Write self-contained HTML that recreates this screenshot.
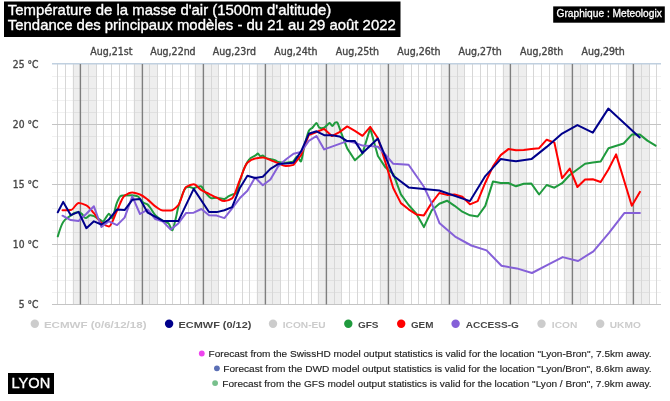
<!DOCTYPE html>
<html lang="fr"><head><meta charset="utf-8"><title>Température de la masse d'air - LYON</title>
<style>
html,body{margin:0;padding:0;background:#fff;}
body{width:670px;height:401px;overflow:hidden;position:relative;font-family:"Liberation Sans",sans-serif;}
svg{position:absolute;left:0;top:0;display:block;}
.ax{font-family:"DejaVu Sans Condensed","DejaVu Sans","Liberation Sans",sans-serif;font-size:10.5px;fill:#464646;stroke:#464646;stroke-width:0.35px;}
.ay{font-size:10.2px;}
.lg{font-family:"Liberation Sans",sans-serif;font-weight:bold;font-size:9.4px;fill:#454545;}
.lg.off{fill:#cccccc;}
.ft{font-family:"Liberation Sans",sans-serif;font-size:9.5px;fill:#1e1e1e;stroke:#1e1e1e;stroke-width:0.15px;}
.ttl{font-family:"Liberation Sans",sans-serif;font-size:15px;fill:#fff;stroke:#fff;stroke-width:0.35px;}
.cr{font-family:"Liberation Sans",sans-serif;font-size:10.2px;fill:#fff;stroke:#fff;stroke-width:0.3px;}
</style></head><body>
<svg width="670" height="401" viewBox="0 0 670 401">
<rect x="0" y="0" width="670" height="401" fill="#ffffff"/>
<g fill="#eeeeee">
<rect x="72.70" y="64.0" width="24.20" height="240.5"/>
<rect x="133.70" y="64.0" width="24.20" height="240.5"/>
<rect x="194.70" y="64.0" width="24.20" height="240.5"/>
<rect x="256.70" y="64.0" width="24.20" height="240.5"/>
<rect x="317.70" y="64.0" width="24.20" height="240.5"/>
<rect x="379.70" y="64.0" width="24.20" height="240.5"/>
<rect x="440.70" y="64.0" width="24.20" height="240.5"/>
<rect x="502.70" y="64.0" width="24.20" height="240.5"/>
<rect x="563.70" y="64.0" width="24.20" height="240.5"/>
<rect x="625.70" y="64.0" width="24.20" height="240.5"/>
</g>
<g stroke="#000000" stroke-opacity="0.055" stroke-width="1" fill="none">
<path d="M52.0 292.50H661.0"/>
<path d="M52.0 280.50H661.0"/>
<path d="M52.0 268.50H661.0"/>
<path d="M52.0 256.50H661.0"/>
<path d="M52.0 232.50H661.0"/>
<path d="M52.0 220.50H661.0"/>
<path d="M52.0 208.50H661.0"/>
<path d="M52.0 196.50H661.0"/>
<path d="M52.0 172.50H661.0"/>
<path d="M52.0 160.50H661.0"/>
<path d="M52.0 148.50H661.0"/>
<path d="M52.0 136.50H661.0"/>
<path d="M52.0 112.50H661.0"/>
<path d="M52.0 100.50H661.0"/>
<path d="M52.0 88.50H661.0"/>
<path d="M52.0 76.50H661.0"/>
</g>
<g stroke="#d7d7d7" stroke-width="1" fill="none">
<path d="M57.5 64.0V304.5"/>
<path d="M65.5 64.0V304.5"/>
<path d="M73.5 64.0V304.5"/>
<path d="M88.5 64.0V304.5"/>
<path d="M96.5 64.0V304.5"/>
<path d="M103.5 64.0V304.5"/>
<path d="M111.5 64.0V304.5"/>
<path d="M119.5 64.0V304.5"/>
<path d="M126.5 64.0V304.5"/>
<path d="M134.5 64.0V304.5"/>
<path d="M149.5 64.0V304.5"/>
<path d="M157.5 64.0V304.5"/>
<path d="M165.5 64.0V304.5"/>
<path d="M172.5 64.0V304.5"/>
<path d="M180.5 64.0V304.5"/>
<path d="M188.5 64.0V304.5"/>
<path d="M195.5 64.0V304.5"/>
<path d="M211.5 64.0V304.5"/>
<path d="M218.5 64.0V304.5"/>
<path d="M226.5 64.0V304.5"/>
<path d="M234.5 64.0V304.5"/>
<path d="M242.5 64.0V304.5"/>
<path d="M249.5 64.0V304.5"/>
<path d="M257.5 64.0V304.5"/>
<path d="M272.5 64.0V304.5"/>
<path d="M280.5 64.0V304.5"/>
<path d="M288.5 64.0V304.5"/>
<path d="M295.5 64.0V304.5"/>
<path d="M303.5 64.0V304.5"/>
<path d="M311.5 64.0V304.5"/>
<path d="M318.5 64.0V304.5"/>
<path d="M334.5 64.0V304.5"/>
<path d="M341.5 64.0V304.5"/>
<path d="M349.5 64.0V304.5"/>
<path d="M357.5 64.0V304.5"/>
<path d="M364.5 64.0V304.5"/>
<path d="M372.5 64.0V304.5"/>
<path d="M380.5 64.0V304.5"/>
<path d="M395.5 64.0V304.5"/>
<path d="M403.5 64.0V304.5"/>
<path d="M411.5 64.0V304.5"/>
<path d="M418.5 64.0V304.5"/>
<path d="M426.5 64.0V304.5"/>
<path d="M434.5 64.0V304.5"/>
<path d="M441.5 64.0V304.5"/>
<path d="M457.5 64.0V304.5"/>
<path d="M464.5 64.0V304.5"/>
<path d="M472.5 64.0V304.5"/>
<path d="M480.5 64.0V304.5"/>
<path d="M487.5 64.0V304.5"/>
<path d="M495.5 64.0V304.5"/>
<path d="M503.5 64.0V304.5"/>
<path d="M518.5 64.0V304.5"/>
<path d="M526.5 64.0V304.5"/>
<path d="M533.5 64.0V304.5"/>
<path d="M541.5 64.0V304.5"/>
<path d="M549.5 64.0V304.5"/>
<path d="M557.5 64.0V304.5"/>
<path d="M564.5 64.0V304.5"/>
<path d="M580.5 64.0V304.5"/>
<path d="M587.5 64.0V304.5"/>
<path d="M595.5 64.0V304.5"/>
<path d="M603.5 64.0V304.5"/>
<path d="M610.5 64.0V304.5"/>
<path d="M618.5 64.0V304.5"/>
<path d="M626.5 64.0V304.5"/>
<path d="M641.5 64.0V304.5"/>
<path d="M649.5 64.0V304.5"/>
<path d="M656.5 64.0V304.5"/>
</g>
<g stroke="#c4c4c4" stroke-width="1" fill="none">
<path d="M52.0 304.50H661.0"/>
<path d="M52.0 244.50H661.0"/>
<path d="M52.0 184.50H661.0"/>
<path d="M52.0 124.50H661.0"/>
</g>
<path d="M52.0 63.7H661.0" stroke="#c0d0e0" stroke-width="1.5" fill="none"/>
<g stroke="#7e7e7e" stroke-width="1.4" fill="none">
<path d="M80.40 64.0V304.5"/>
<path d="M142.40 64.0V304.5"/>
<path d="M203.40 64.0V304.5"/>
<path d="M265.40 64.0V304.5"/>
<path d="M326.40 64.0V304.5"/>
<path d="M388.40 64.0V304.5"/>
<path d="M449.40 64.0V304.5"/>
<path d="M510.40 64.0V304.5"/>
<path d="M572.40 64.0V304.5"/>
<path d="M633.40 64.0V304.5"/>
</g>
<g fill="none" stroke-width="2" stroke-linejoin="round" stroke-linecap="round">
<path stroke="#1f9a3d" d="M57.8 236.4 C58.1 235.4 59.9 229.7 60.5 228.0 C61.1 226.3 62.4 223.2 63.2 222.0 C64.0 220.8 66.1 218.7 67.0 218.0 C67.9 217.3 69.8 216.3 70.7 215.7 C71.6 215.1 73.6 213.4 74.5 213.0 C75.4 212.6 77.7 212.2 78.6 212.3 C79.5 212.4 81.3 213.4 82.0 214.0 C82.7 214.6 84.0 217.1 84.5 217.5 C85.0 217.9 85.8 218.1 86.4 217.8 C87.0 217.5 89.1 215.5 90.0 215.3 C90.9 215.1 93.0 215.8 93.9 216.1 C94.8 216.4 96.7 217.7 97.6 218.2 C98.5 218.7 100.7 220.3 101.4 220.7 C102.1 221.1 102.4 222.1 103.3 221.3 C104.2 220.5 107.8 214.2 108.9 213.8 C110.0 213.4 111.6 219.2 112.5 218.0 C113.4 216.8 115.6 206.3 116.5 203.8 C117.4 201.3 119.3 197.3 120.2 196.3 C121.1 195.3 123.2 195.7 124.6 195.6 C126.0 195.5 130.7 195.1 132.3 195.2 C133.9 195.3 137.0 196.0 137.9 196.4 C138.8 196.8 139.3 198.2 140.0 198.9 C140.7 199.6 142.7 202.0 143.6 202.7 C144.5 203.4 146.8 203.9 147.7 204.6 C148.6 205.3 150.2 207.8 151.1 209.0 C152.0 210.2 153.9 213.8 155.3 215.2 C156.7 216.6 161.4 219.9 163.0 220.9 C164.6 221.9 167.5 222.3 168.6 223.4 C169.7 224.5 171.6 230.7 172.4 230.3 C173.2 229.9 174.8 222.3 175.5 219.6 C176.2 216.9 177.5 210.0 178.3 207.1 C179.1 204.2 181.5 196.8 182.4 194.5 C183.3 192.2 185.1 188.5 186.0 187.6 C186.9 186.7 189.0 186.9 189.9 187.0 C190.8 187.1 192.8 188.3 193.7 188.3 C194.6 188.3 196.6 187.0 197.5 186.8 C198.4 186.6 200.5 185.8 201.4 186.4 C202.3 187.0 204.1 190.8 205.0 192.0 C205.9 193.2 208.2 195.9 209.0 196.6 C209.8 197.3 210.6 198.2 211.5 198.3 C212.4 198.4 215.2 197.6 216.7 197.7 C218.2 197.8 223.0 199.2 224.4 199.0 C225.8 198.8 227.5 196.9 228.4 196.4 C229.3 195.9 231.1 195.0 232.1 194.6 C233.1 194.2 235.7 194.2 236.6 192.7 C237.5 191.2 238.9 184.6 239.7 182.0 C240.5 179.4 242.6 172.3 243.5 170.0 C244.4 167.7 246.6 163.4 247.4 162.0 C248.2 160.6 249.5 158.9 250.4 158.2 C251.3 157.5 254.2 156.2 255.1 155.7 C256.0 155.2 257.3 153.5 257.9 153.6 C258.5 153.7 259.8 156.1 260.4 156.3 C261.0 156.5 262.1 155.3 262.8 155.5 C263.5 155.7 265.2 157.8 266.1 158.2 C267.0 158.6 269.4 158.9 270.4 159.1 C271.4 159.3 274.0 159.8 274.9 160.1 C275.8 160.4 276.8 161.7 278.1 162.0 C279.4 162.3 284.3 162.8 285.8 162.8 C287.3 162.8 290.3 162.2 291.2 162.0 C292.1 161.8 292.8 162.0 293.5 161.3 C294.2 160.6 296.5 156.3 297.4 156.3 C298.3 156.3 300.3 162.5 301.1 161.3 C301.9 160.1 303.5 149.5 304.4 146.0 C305.3 142.5 307.9 133.1 308.8 131.0 C309.7 128.9 311.6 128.6 312.5 127.7 C313.4 126.8 315.7 123.0 316.5 123.0 C317.3 123.0 318.5 127.2 319.4 127.7 C320.3 128.2 323.0 128.2 324.2 127.7 C325.4 127.2 328.6 123.2 329.5 123.0 C330.4 122.8 331.6 126.0 332.3 126.0 C333.0 126.0 334.5 123.0 335.1 122.7 C335.7 122.4 336.9 121.8 337.6 123.0 C338.3 124.2 340.3 130.3 341.4 133.3 L347.2 148.4 L354.9 160.3 L362.5 153.4 L370.2 128.3 L377.9 156.0 L385.6 167.6 L393.3 173.9 L400.9 194.3 L408.6 205.0 L416.3 213.7 L423.9 227.1 L431.6 210.6 L439.3 203.7 L447.0 200.7 L454.6 205.8 L462.3 211.7 L470.0 215.3 L477.7 216.5 L485.3 205.9 L493.0 181.4 L500.7 183.1 L508.4 183.0 L516.0 186.3 L523.7 183.7 L531.4 183.6 L539.1 194.5 L546.7 185.0 L554.4 187.7 L562.1 183.2 L569.8 175.0 L585.1 163.8 L592.8 162.6 L600.7 161.5 L608.5 148.3 L623.6 143.5 L631.8 134.6 L639.9 134.6 L647.4 140.6 L655.6 145.7"/>
<path stroke="#ff0000" d="M62.5 210.3 C65.2 210.2 68.0 210.2 70.7 210.1 C73.4 210.0 76.1 202.9 78.8 202.9 C81.3 202.9 83.9 204.1 86.4 205.3 C88.9 206.5 91.4 210.3 93.9 213.2 C96.4 216.1 98.9 221.1 101.4 222.8 C103.9 224.5 106.4 226.4 108.9 226.4 C111.4 226.4 114.0 216.9 116.5 211.9 C119.2 206.6 121.9 197.4 124.6 195.6 C127.2 193.8 129.7 192.4 132.3 192.4 C134.9 192.4 137.4 193.5 140.0 194.5 C142.6 195.5 145.1 197.6 147.7 199.6 C150.2 201.5 152.8 204.7 155.3 206.4 C157.9 208.1 160.4 210.6 163.0 210.6 C165.6 210.6 168.1 210.6 170.7 210.6 C173.2 210.6 175.8 208.0 178.3 205.2 C180.9 202.4 183.4 188.6 186.0 187.0 C188.6 185.4 191.1 184.3 193.7 184.3 C196.3 184.3 198.8 188.6 201.4 190.1 C203.9 191.6 206.5 192.6 209.0 193.9 C211.6 195.2 214.1 196.5 216.7 197.7 C219.3 198.9 221.8 201.1 224.4 201.1 C227.0 201.1 229.5 199.9 232.1 198.3 C234.6 196.7 237.2 186.3 239.7 180.4 C242.3 174.4 244.8 165.1 247.4 162.8 C250.0 160.5 252.5 159.1 255.1 158.6 C257.7 158.1 260.2 157.6 262.8 157.6 C265.3 157.6 267.9 159.2 270.4 160.1 C273.0 161.0 275.5 162.2 278.1 163.2 C280.7 164.2 283.2 166.1 285.8 166.1 C288.4 166.1 290.9 165.6 293.5 164.9 L301.1 155.1 L308.8 135.0 L316.5 132.0 L324.2 128.9 L331.8 136.1 L339.5 132.1 L347.2 126.4 L354.9 130.8 L362.5 135.8 L370.2 126.8 L377.9 138.3 L385.6 163.0 L393.2 188.0 L400.9 203.1 L408.6 209.3 L416.3 214.4 L423.9 215.4 L431.6 203.1 L439.3 193.0 L447.0 194.9 L454.6 194.4 L462.3 196.8 L470.0 204.3 L477.7 201.1 L485.3 182.7 L493.0 166.4 L500.7 155.1 L508.4 149.1 L516.0 150.3 L523.7 150.1 L531.4 149.1 L539.1 148.2 L546.7 139.7 L554.4 142.6 L562.1 178.2 L569.8 168.6 L577.4 187.0 L585.1 179.5 L592.8 179.3 L600.7 182.0 L608.4 169.5 L616.1 154.4 L631.8 205.7 L639.9 191.9"/>
<path stroke="#8560d8" d="M62.5 215.7 L70.7 220.1 L78.6 221.1 L86.4 213.8 L93.9 206.3 L101.4 227.0 L108.9 221.3 L117.1 225.1 L124.6 217.6 L132.3 196.4 L140.0 214.0 L147.7 209.6 L155.3 219.0 L163.0 221.5 L170.7 229.6 L178.3 223.4 L186.0 213.1 L193.7 212.7 L201.4 209.0 L209.0 215.2 L216.7 215.6 L224.4 218.1 L232.1 208.4 L239.7 198.3 L247.4 190.8 L255.1 177.5 L262.8 185.2 L270.4 179.5 L278.1 166.4 L285.8 159.5 L293.5 153.8 L301.1 152.0 L308.8 140.9 L316.5 136.0 L324.2 149.4 L347.2 141.1 L354.9 142.7 L362.5 145.6 L370.2 145.9 L377.9 146.7 L385.6 155.0 L393.3 163.8 L408.6 164.8 L423.9 186.8 L431.6 203.1 L439.6 223.3 L455.1 236.6 L471.3 245.5 L486.6 250.4 L501.5 265.8 L516.8 268.4 L532.0 273.0 L547.1 265.2 L562.7 257.1 L578.1 261.0 L593.4 251.3 L609.0 232.8 L624.3 213.1 L639.9 212.9"/>
<path stroke="#00008b" d="M57.8 212.3 L63.2 201.9 L70.7 215.1 L78.6 211.9 L86.4 228.2 L93.9 221.3 L101.4 224.5 L108.9 219.5 L117.1 209.4 L124.6 210.1 L132.3 199.8 L140.0 198.9 L147.7 212.7 L163.0 220.9 L178.3 221.1 L193.7 188.9 L209.0 212.0 L216.7 212.1 L224.4 210.2 L232.1 207.1 L239.7 188.3 L247.4 175.8 L255.1 178.0 L262.8 176.7 L270.4 168.9 L278.1 164.1 L285.8 163.6 L293.5 162.8 L301.1 151.3 L308.8 133.8 L316.5 131.3 L324.2 135.2 L331.8 135.2 L339.5 136.4 L347.2 141.1 L354.9 141.1 L362.5 153.1 L377.9 138.6 L393.3 175.7 L408.6 187.4 L439.3 190.5 L470.0 201.1 L485.3 176.1 L500.7 159.1 L516.0 161.3 L531.4 159.1 L546.7 146.9 L562.1 133.6 L577.4 125.1 L592.8 132.6 L608.3 108.6 L639.7 137.5"/>
</g>
<text class="ax ay" x="38.4" y="308.3" text-anchor="end">5 °C</text>
<text class="ax ay" x="38.4" y="248.3" text-anchor="end">10 °C</text>
<text class="ax ay" x="38.4" y="188.3" text-anchor="end">15 °C</text>
<text class="ax ay" x="38.4" y="128.3" text-anchor="end">20 °C</text>
<text class="ax ay" x="38.4" y="68.3" text-anchor="end">25 °C</text>
<text class="ax" x="111.4" y="55.2" text-anchor="middle">Aug,21st</text>
<text class="ax" x="172.9" y="55.2" text-anchor="middle">Aug,22nd</text>
<text class="ax" x="234.4" y="55.2" text-anchor="middle">Aug,23rd</text>
<text class="ax" x="295.8" y="55.2" text-anchor="middle">Aug,24th</text>
<text class="ax" x="357.3" y="55.2" text-anchor="middle">Aug,25th</text>
<text class="ax" x="418.8" y="55.2" text-anchor="middle">Aug,26th</text>
<text class="ax" x="480.2" y="55.2" text-anchor="middle">Aug,27th</text>
<text class="ax" x="541.7" y="55.2" text-anchor="middle">Aug,28th</text>
<text class="ax" x="603.1" y="55.2" text-anchor="middle">Aug,29th</text>
<rect x="4" y="1.5" width="396.5" height="35.5" fill="#000"/>
<text class="ttl" x="7.8" y="15.4" textLength="323.5" lengthAdjust="spacingAndGlyphs">Température de la masse d'air (1500m d'altitude)</text>
<text class="ttl" x="7.8" y="30.4" textLength="388" lengthAdjust="spacingAndGlyphs">Tendance des principaux modèles - du 21 au 29 août 2022</text>
<rect x="553.2" y="6.4" width="111.6" height="16.3" fill="#000"/>
<text class="cr" x="556.5" y="17.2" textLength="105.3" lengthAdjust="spacingAndGlyphs">Graphique : Meteologix</text>
<rect x="8" y="373" width="46" height="21" fill="#000"/>
<text class="ttl" x="11.5" y="387.8" textLength="38.7" lengthAdjust="spacingAndGlyphs">LYON</text>
<circle cx="34.8" cy="323.8" r="4.2" fill="#cccccc"/>
<text class="lg off" x="43.9" y="327.6" textLength="102.6" lengthAdjust="spacingAndGlyphs">ECMWF (0/6/12/18)</text>
<circle cx="169.1" cy="323.8" r="4.2" fill="#00008b"/>
<text class="lg" x="178.6" y="327.6" textLength="72.8" lengthAdjust="spacingAndGlyphs">ECMWF (0/12)</text>
<circle cx="273.0" cy="323.8" r="4.2" fill="#cccccc"/>
<text class="lg off" x="282.8" y="327.6" textLength="42.8" lengthAdjust="spacingAndGlyphs">ICON-EU</text>
<circle cx="348.3" cy="323.8" r="4.2" fill="#1f9a3d"/>
<text class="lg" x="357.9" y="327.6" textLength="20.7" lengthAdjust="spacingAndGlyphs">GFS</text>
<circle cx="401.2" cy="323.8" r="4.2" fill="#ff0000"/>
<text class="lg" x="410.9" y="327.6" textLength="22.5" lengthAdjust="spacingAndGlyphs">GEM</text>
<circle cx="455.6" cy="323.8" r="4.2" fill="#8560d8"/>
<text class="lg" x="465.7" y="327.6" textLength="53.2" lengthAdjust="spacingAndGlyphs">ACCESS-G</text>
<circle cx="541.5" cy="323.8" r="4.2" fill="#cccccc"/>
<text class="lg off" x="551.8" y="327.6" textLength="25.5" lengthAdjust="spacingAndGlyphs">ICON</text>
<circle cx="600.2" cy="323.8" r="4.2" fill="#cccccc"/>
<text class="lg off" x="609.8" y="327.6" textLength="31.0" lengthAdjust="spacingAndGlyphs">UKMO</text>
<circle cx="201.8" cy="353.5" r="2.9" fill="#ee44ee"/>
<text class="ft" x="208.6" y="356.9" textLength="443.0" lengthAdjust="spacingAndGlyphs">Forecast from the SwissHD model output statistics is valid for the location "Lyon-Bron", 7.5km away.</text>
<circle cx="216.9" cy="368.3" r="2.9" fill="#5b6fb5"/>
<text class="ft" x="223.3" y="371.7" textLength="428.3" lengthAdjust="spacingAndGlyphs">Forecast from the DWD model output statistics is valid for the location "Lyon/Bron", 8.6km away.</text>
<circle cx="215.1" cy="383.1" r="2.9" fill="#78c08c"/>
<text class="ft" x="222.3" y="386.5" textLength="429.3" lengthAdjust="spacingAndGlyphs">Forecast from the GFS model output statistics is valid for the location "Lyon / Bron", 7.9km away.</text>
</svg>
</body></html>
